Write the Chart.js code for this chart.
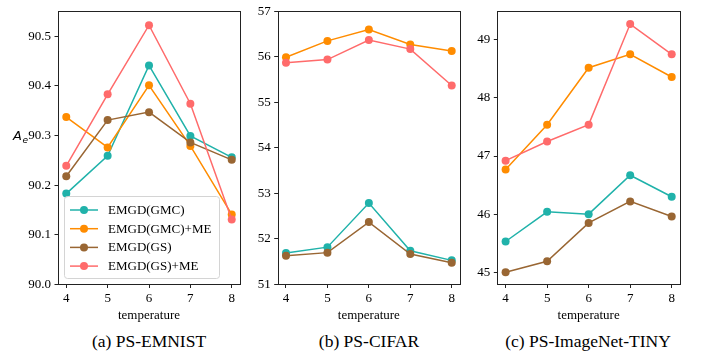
<!DOCTYPE html>
<html>
<head>
<meta charset="utf-8">
<script src="https://cdn.jsdelivr.net/npm/chart.js@4.4.1/dist/chart.umd.min.js"></script>
<style>
  body { margin: 0; background: #fff; width: 702px; height: 360px; position: relative; overflow: hidden; font-family: "Liberation Serif", "Times New Roman", serif; }
  canvas { position: absolute; top: 0; }
  .cap { position: absolute; top: 331px; font-size: 17.5px; color: #000; text-align: center; white-space: nowrap; }
</style>
</head>
<body>
<canvas id="chartA" width="248" height="330" style="left:0px"></canvas>
<canvas id="chartB" width="222" height="330" style="left:248px"></canvas>
<canvas id="chartC" width="232" height="330" style="left:470px"></canvas>
<div class="cap" style="left:58px;width:182px">(a) PS-EMNIST</div>
<div class="cap" style="left:278px;width:182px">(b) PS-CIFAR</div>
<div class="cap" style="left:488px;width:200px">(c) PS-ImageNet-TINY</div>
<script>
const temps = [4, 5, 6, 7, 8];
const seriesNames = ['EMGD(GMC)', 'EMGD(GMC)+ME', 'EMGD(GS)', 'EMGD(GS)+ME'];
const seriesColors = ['#20b2aa', '#ff8c00', '#996633', '#ff6b6b'];

// (a) PS-EMNIST
const emnistGMC   = [90.183, 90.259, 90.441, 90.299, 90.256];
const emnistGMCME = [90.337, 90.276, 90.401, 90.279, 90.141];
const emnistGS    = [90.218, 90.331, 90.347, 90.286, 90.251];
const emnistGSME  = [90.239, 90.383, 90.522, 90.364, 90.131];
const emnistTicks = [90.0, 90.1, 90.2, 90.3, 90.4, 90.5];

// (b) PS-CIFAR
const cifarGMC   = [51.69, 51.82, 52.79, 51.74, 51.53];
const cifarGMCME = [55.99, 56.35, 56.60, 56.27, 56.13];
const cifarGS    = [51.63, 51.70, 52.37, 51.67, 51.48];
const cifarGSME  = [55.87, 55.94, 56.37, 56.17, 55.37];
const cifarTicks = [51, 52, 53, 54, 55, 56, 57];

// (c) PS-ImageNet-TINY
const tinyGMC   = [45.53, 46.04, 46.00, 46.67, 46.30];
const tinyGMCME = [46.77, 47.54, 48.52, 48.75, 48.36];
const tinyGS    = [45.00, 45.19, 45.85, 46.22, 45.96];
const tinyGSME  = [46.92, 47.25, 47.54, 49.27, 48.75];
const tinyTicks = [45, 46, 47, 48, 49];

const serif = "'Liberation Serif', 'Times New Roman', serif";

const frame = {
  id: 'frame',
  afterDraw(chart) {
    const {ctx, chartArea: a} = chart;
    ctx.save();
    ctx.strokeStyle = '#222';
    ctx.lineWidth = 1;
    ctx.strokeRect(Math.round(a.left) + 0.5, Math.round(a.top) + 0.5,
      Math.round(a.right - a.left), Math.round(a.bottom - a.top));
    ctx.restore();
  }
};

const legendBox = {
  id: 'legendBox',
  afterDraw(chart, args, opts) {
    if (!opts.show) return;
    const {ctx} = chart;
    const x0 = 64, y0 = 196, w = 155, h = 82;
    ctx.save();
    ctx.beginPath();
    ctx.roundRect(x0 + 0.5, y0 + 0.5, w, h, 3);
    ctx.fillStyle = 'rgba(255,255,255,0.8)';
    ctx.fill();
    ctx.strokeStyle = '#d4d4d4';
    ctx.lineWidth = 1;
    ctx.stroke();
    chart.data.datasets.forEach((ds, i) => {
      const y = 210 + i * 18.7;
      ctx.strokeStyle = ds.borderColor;
      ctx.lineWidth = 1.5;
      ctx.beginPath();
      ctx.moveTo(70, y);
      ctx.lineTo(98, y);
      ctx.stroke();
      ctx.fillStyle = ds.borderColor;
      ctx.beginPath();
      ctx.arc(84, y, 4, 0, Math.PI * 2);
      ctx.fill();
      ctx.fillStyle = '#000';
      ctx.font = '13px ' + serif;
      ctx.textBaseline = 'middle';
      ctx.textAlign = 'left';
      ctx.fillText(ds.label, 108, y + 0.5);
    });
    ctx.restore();
  }
};

const yLabel = {
  id: 'yLabel',
  afterDraw(chart, args, opts) {
    if (!opts.show) return;
    const {ctx} = chart;
    ctx.save();
    ctx.fillStyle = '#000';
    ctx.textBaseline = 'alphabetic';
    ctx.font = 'italic 13px "DejaVu Sans"';
    ctx.fillText('A', 13, 140);
    ctx.font = 'italic 9px "DejaVu Sans"';
    ctx.fillText('e', 22.5, 143);
    ctx.restore();
  }
};

function makePanel(id, opt) {
  const series = [opt.gmc, opt.gmcme, opt.gs, opt.gsme];
  new Chart(document.getElementById(id), {
    type: 'line',
    data: {
      datasets: series.map((vals, i) => ({
        label: seriesNames[i],
        data: temps.map((t, k) => ({x: t, y: vals[k]})),
        borderColor: seriesColors[i],
        backgroundColor: seriesColors[i],
        pointBackgroundColor: seriesColors[i],
        pointBorderColor: seriesColors[i],
        borderWidth: 1.5,
        pointRadius: 4,
        pointBorderWidth: 0,
        tension: 0,
        order: 3 - i
      }))
    },
    options: {
      responsive: false,
      animation: false,
      layout: {padding: {top: 7, right: opt.padRight, left: 0, bottom: 0}},
      plugins: {
        legend: {display: false},
        tooltip: {enabled: false},
        legendBox: {show: !!opt.legend},
        yLabel: {show: !!opt.ylabel}
      },
      scales: {
        x: {
          type: 'linear',
          min: 3.8,
          max: 8.2,
          afterBuildTicks: s => { s.ticks = temps.map(v => ({value: v})); },
          afterFit: s => { s.height = 45.5; },
          grid: {drawOnChartArea: false, drawTicks: true, tickLength: 3.5, color: '#222'},
          border: {display: false},
          ticks: {color: '#000', font: {family: serif, size: 13}, padding: 3, maxRotation: 0},
          title: {display: true, text: 'temperature', color: '#000', font: {family: serif, size: 13}, padding: {top: 0, bottom: 7}}
        },
        y: {
          min: opt.yMin,
          max: opt.yMax,
          afterBuildTicks: s => { s.ticks = opt.yTicks.map(v => ({value: v})); },
          afterFit: s => { s.width = opt.yWidth; },
          grid: {drawOnChartArea: false, drawTicks: true, tickLength: 3.5, color: '#222'},
          border: {display: false},
          ticks: {
            color: '#000',
            font: {family: serif, size: 13},
            padding: 3.5,
            callback: v => v.toFixed(opt.decimals)
          }
        }
      }
    },
    plugins: [frame, legendBox, yLabel]
  });
}

makePanel('chartA', {
  gmc: emnistGMC, gmcme: emnistGMCME, gs: emnistGS, gsme: emnistGSME,
  yMin: 90.0, yMax: 90.55, yTicks: emnistTicks, decimals: 1,
  yWidth: 58, padRight: 8, legend: true, ylabel: true
});
makePanel('chartB', {
  gmc: cifarGMC, gmcme: cifarGMCME, gs: cifarGS, gsme: cifarGSME,
  yMin: 51, yMax: 57, yTicks: cifarTicks, decimals: 0,
  yWidth: 29.7, padRight: 10
});
makePanel('chartC', {
  gmc: tinyGMC, gmcme: tinyGMCME, gs: tinyGS, gsme: tinyGSME,
  yMin: 44.79, yMax: 49.49, yTicks: tinyTicks, decimals: 0,
  yWidth: 27.3, padRight: 22
});
</script>
</body>
</html>
